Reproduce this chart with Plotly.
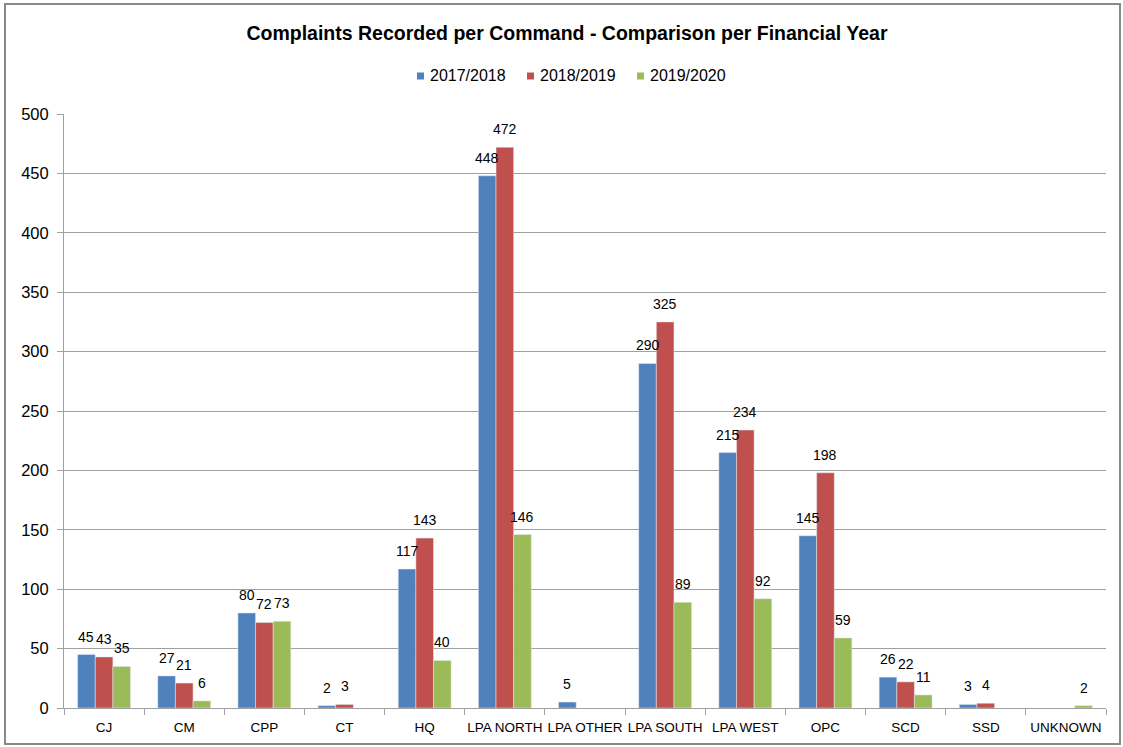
import plotly.graph_objects as go

categories = ["CJ", "CM", "CPP", "CT", "HQ", "LPA NORTH", "LPA OTHER", "LPA SOUTH",
              "LPA WEST", "OPC", "SCD", "SSD", "UNKNOWN"]
fy_2017_2018 = [45, 27, 80, 2, 117, 448, 5, 290, 215, 145, 26, 3, None]
fy_2018_2019 = [43, 21, 72, 3, 143, 472, None, 325, 234, 198, 22, 4, None]
fy_2019_2020 = [35, 6, 73, None, 40, 146, None, 89, 92, 59, 11, None, 2]
series_names = ["2017/2018", "2018/2019", "2019/2020"]
colors = ["#4F81BD", "#C0504D", "#9BBB59"]

FONT = "Liberation Sans, Arial, sans-serif"

W, H = 1123, 747
L, R, T, B = 64, 17, 114, 39
pw, ph = W - L - R, H - T - B
BARGAP = 0.34


def px_x(x):
    return (x - L) / pw


def px_y(y):
    return (H - B - y) / ph


all_series = [fy_2017_2018, fy_2018_2019, fy_2019_2020]

fig = go.Figure()
for name, vals, col in zip(series_names, all_series, colors):
    fig.add_trace(go.Bar(
        x=categories, y=vals, name=name, marker_color=col,
        showlegend=False, hoverinfo="x+y+name",
    ))

# data labels above bars
cat_px = pw / len(categories)
bar_px = cat_px * (1 - BARGAP) / len(all_series)
annotations = []
for j, vals in enumerate(all_series):
    for cat, v in zip(categories, vals):
        if v is None:
            continue
        annotations.append(dict(x=cat, y=v, xref="x", yref="y", showarrow=False,
                                text=str(v), xanchor="center", yanchor="bottom",
                                xshift=(j - 1) * bar_px, yshift=8,
                                font=dict(size=14, family=FONT, color="#000000")))

# manual legend (small squares + labels)
legend_sq_x = [417, 527, 637]
shapes = []
for name, col, sx in zip(series_names, colors, legend_sq_x):
    shapes.append(dict(type="rect", xref="paper", yref="paper",
                       x0=px_x(sx), x1=px_x(sx + 7), y0=px_y(79.5), y1=px_y(72.5),
                       line=dict(width=0), fillcolor=col))
    annotations.append(dict(xref="paper", yref="paper", x=px_x(sx + 11), y=px_y(76),
                            xanchor="left", yanchor="middle", showarrow=False,
                            text=name, font=dict(size=16, family=FONT, color="#000000")))

shapes.append(dict(type="rect", xref="paper", yref="paper",
                   x0=px_x(5), x1=px_x(1120), y0=px_y(744), y1=px_y(4),
                   line=dict(color="#888888", width=2), fillcolor="rgba(0,0,0,0)", layer="below"))

fig.update_layout(
    width=W, height=H,
    margin=dict(l=L, r=R, t=T, b=B),
    paper_bgcolor="white", plot_bgcolor="white",
    barmode="group", bargap=BARGAP, bargroupgap=0,
    font=dict(family=FONT, color="#000000"),
    title=dict(text="<b>Complaints Recorded per Command - Comparison per Financial Year</b>",
               xref="container", yref="container",
               x=567 / W, xanchor="center", y=1 - 33 / H, yanchor="middle",
               font=dict(size=19.5, family=FONT, color="#000000")),
    showlegend=False,
    xaxis=dict(type="category", showgrid=False, showline=True, linecolor="#A0A0A0",
               ticks="outside", tickson="boundaries", ticklen=6, tickcolor="#A0A0A0",
               tickangle=0, automargin=False, ticklabelstandoff=7,
               tickfont=dict(size=13.5, family=FONT)),
    yaxis=dict(range=[0, 500], dtick=50, showgrid=True, gridcolor="#A0A0A0", gridwidth=1,
               showline=True, linecolor="#A0A0A0", ticks="outside", ticklen=6,
               tickcolor="#A0A0A0", tickfont=dict(size=16.5, family=FONT), zeroline=False,
               automargin=False, ticklabelstandoff=5),
    shapes=shapes,
    annotations=annotations,
)

fig.write_html("out.html", config={"displayModeBar": False},
               post_script="document.body.style.margin='0';document.body.style.padding='0';")
